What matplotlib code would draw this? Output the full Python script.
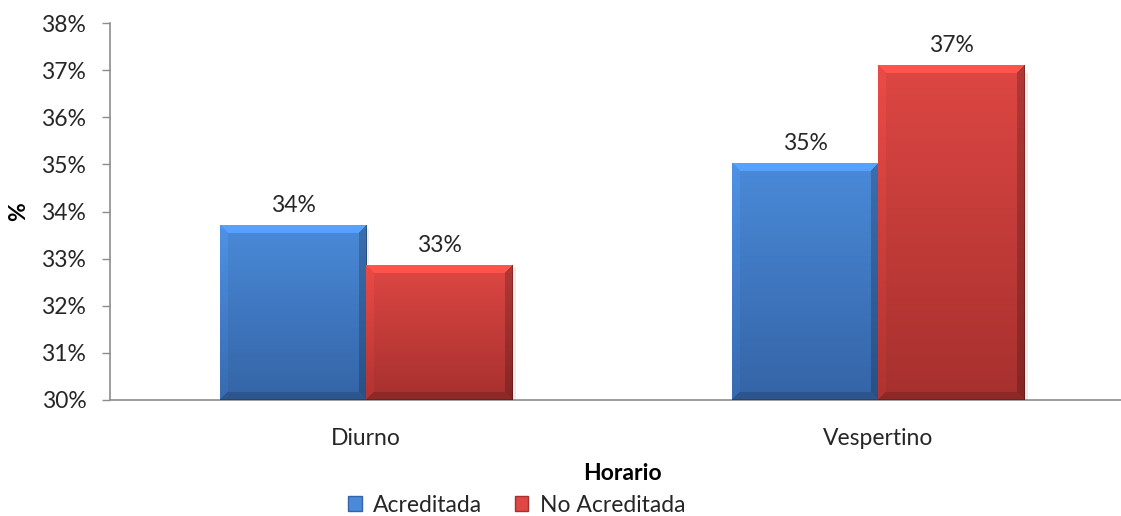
import numpy as np
import matplotlib
matplotlib.use("Agg")
import matplotlib.pyplot as plt
from matplotlib.colors import to_rgb
from matplotlib.patches import Rectangle

categories = ["Diurno", "Vespertino"]
series_names = ["Acreditada", "No Acreditada"]
acreditada = [33.70, 35.01]
no_acreditada = [32.85, 37.09]
y_ticks = [30, 31, 32, 33, 34, 35, 36, 37, 38]

top_colors = ["#4a8ad9", "#de4743"]
bot_colors = ["#3464a6", "#a6302e"]

plt.rcParams['font.family'] = ['Lato', 'DejaVu Sans']
FS = 16.5
TXT = "#262626"

fig = plt.figure(figsize=(11.21, 5.16), dpi=100)
ax = fig.add_axes([110 / 1121, 1 - 400 / 516, 1024.6 / 1121, 377 / 516])
ax.set_xlim(-0.5, 1.5)
ax.set_ylim(30, 38)

width = 1 / 3.5
x = np.arange(len(categories))
all_series = [acreditada, no_acreditada]
bars_by_series = []
for i, vals in enumerate(all_series):
    offs = (i - 0.5) * width
    bars = ax.bar(x + offs, np.array(vals) - 30, width, bottom=30,
                  color=top_colors[i], label=series_names[i], zorder=2,
                  linewidth=0)
    bars_by_series.append(bars)

fig.canvas.draw()


def bevel_image(h, w, top, bot, b=8):
    t = np.linspace(0, 1, h)[:, None]
    top = np.array(to_rgb(top)); bot = np.array(to_rgb(bot))
    img = top[None, None, :] * (1 - t[..., None]) + bot[None, None, :] * t[..., None]
    img = np.repeat(img, w, axis=1)
    yy, xx = np.mgrid[0:h, 0:w]
    shade = np.ones((h, w))
    topmask = (yy < b) & (xx >= yy) & (w - 1 - xx >= yy)
    shade[topmask] = 1.18
    leftmask = (xx < b) & (yy >= xx) & (h - 1 - yy >= xx)
    shade[leftmask] = 1.06
    rightmask = (w - 1 - xx < b) & (yy >= (w - 1 - xx)) & (h - 1 - yy >= (w - 1 - xx))
    shade[rightmask] = 0.80
    botmask = (h - 1 - yy < b) & (xx >= (h - 1 - yy)) & (w - 1 - xx >= (h - 1 - yy))
    shade[botmask] = 0.85
    img = np.clip(img * shade[..., None], 0, 1)
    img[:, -1] *= 0.75
    img[-1, :] *= 0.8
    return img


for i, bars in enumerate(bars_by_series):
    for bar in bars:
        x0, y0 = bar.get_x(), bar.get_y()
        x1, y1 = x0 + bar.get_width(), y0 + bar.get_height()
        (px0, py0), (px1, py1) = ax.transData.transform([(x0, y0), (x1, y1)])
        wpx = max(int(round(px1 - px0)), 2)
        hpx = max(int(round(py1 - py0)), 2)
        img = bevel_image(hpx, wpx, top_colors[i], bot_colors[i])
        sh = Rectangle((x1, y0), 0.006, bar.get_height() * 0.98, color="#000000",
                       alpha=0.08, zorder=1, linewidth=0)
        ax.add_patch(sh)
        ax.imshow(img, extent=(x0, x1, y0, y1), aspect='auto', zorder=3,
                  interpolation='nearest')
        bar.set_alpha(0)
        ax.annotate(f"{y1:.0f}%", (x0 + bar.get_width() / 2, y1),
                    xytext=(0, 7), textcoords="offset points",
                    ha="center", va="bottom", fontsize=FS, color=TXT, zorder=4)

ax.set_xlim(-0.5, 1.5)
ax.set_ylim(30, 38)
ax.set_yticks(y_ticks)
ax.set_yticklabels([f"{v}%" for v in y_ticks])
ax.set_xticks(x)
ax.set_xticklabels(categories)
ax.tick_params(axis='y', direction='out', length=6, width=1, color="#8c8c8c",
               pad=11, labelsize=FS, labelcolor=TXT)
ax.tick_params(axis='x', length=0, pad=20, labelsize=FS, labelcolor=TXT)
for s in ["top", "right"]:
    ax.spines[s].set_visible(False)
for s in ["left", "bottom"]:
    ax.spines[s].set_color("#8c8c8c")
    ax.spines[s].set_linewidth(1.2)

ax.set_xlabel("Horario", fontsize=FS, fontweight="bold", color="#000000")
ax.xaxis.set_label_coords(0.5, -0.168)
ax.set_ylabel("%", fontsize=FS, fontweight="bold", color="#000000")
ax.yaxis.set_label_coords(-0.079, 0.5)

handles = [Rectangle((0, 0), 1, 1, facecolor=top_colors[0], edgecolor=bot_colors[0]),
           Rectangle((0, 0), 1, 1, facecolor=top_colors[1], edgecolor=bot_colors[1])]
fig.legend(handles, series_names, loc="center", bbox_to_anchor=(0.461, 0.021),
           ncol=2, frameon=False, fontsize=FS, handlelength=0.6, handleheight=0.6,
           handletextpad=0.5, columnspacing=1.4, labelcolor=TXT)

fig.savefig("out.png", dpi=100)
